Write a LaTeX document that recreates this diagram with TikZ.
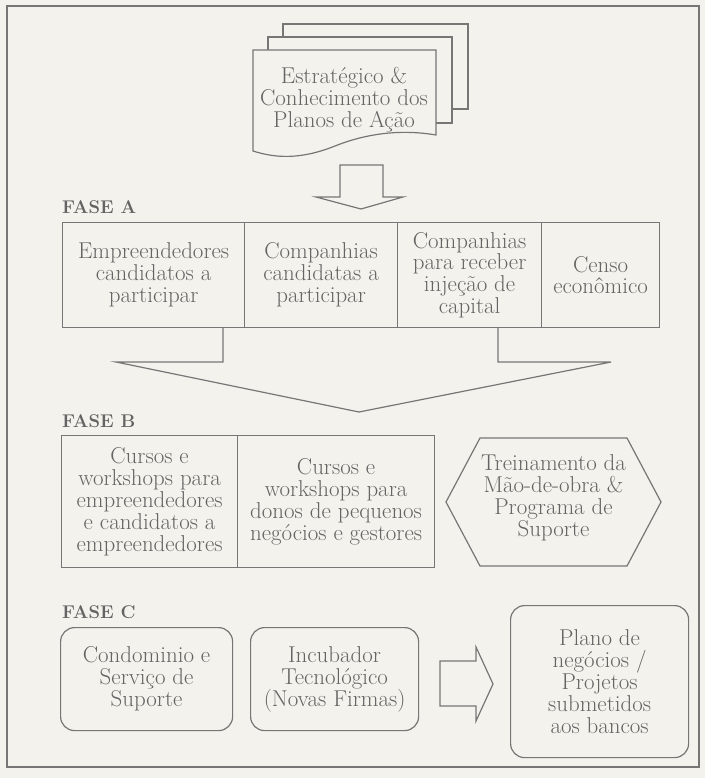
\documentclass[tikz,border=0pt]{standalone}
\usepackage{fontspec}
\usetikzlibrary{calc}
\definecolor{paper}{RGB}{244,242,236}
\definecolor{ink}{RGB}{118,118,118}
\definecolor{txt}{RGB}{100,100,100}
\begin{document}
\begin{tikzpicture}[x=1bp,y=-1bp,
  line/.style={draw=ink, line width=1.2bp},
  body/.style={text=txt, align=center, inner sep=0pt,
    font={\fontsize{23}{22}\selectfont\addfontfeatures{LetterSpace=9}}},
  cell/.style={body, line, anchor=north west},
  rbox/.style={cell, rounded corners=14bp},
  phase/.style={text=txt, anchor=base west, inner sep=0pt,
    font={\fontsize{18.5}{18.5}\selectfont\bfseries}},
  pagefill/.style={line, fill=paper}
]
\useasboundingbox (0,0) rectangle (705,778);
\fill[paper] (0,0) rectangle (705,778);
\draw[line] (7,6) rectangle (699,767);

% stacked document
\draw[pagefill] (283,24) rectangle (468,109);
\draw[pagefill] (268,37) rectangle (452,123);
\draw[pagefill] (253,50) -- (436,50) -- (436,135)
   .. controls (395,128) and (360,136) .. (335,146)
   .. controls (300,160) and (275,158) .. (253,151) -- cycle;
\node[body] (doc) at (344,100) {Estratégico \&\\Conhecimento dos\\Planos de Ação};

% down block arrow
\coordinate (d1) at (340,165);
\coordinate (d2) at (383,165);
\coordinate (d3) at (383,197);
\coordinate (d4) at (403,197);
\coordinate (dt) at (361,209);
\coordinate (d5) at (316,197);
\coordinate (d6) at (340,197);
\draw[line, line join=miter] (d1) -- (d2) -- (d3) -- (d4) -- (dt) -- (d5) -- (d6) -- cycle;

% FASE A
\node[phase] (fa) at (62,213) {FASE A};
\node[cell, minimum width=182bp, minimum height=105bp] (a1) at (62,222) {Empreendedores\\candidatos a\\participar};
\node[cell, minimum width=153bp, minimum height=105bp] (a2) at (244,222) {Companhias\\candidatas a\\participar};
\node[cell, minimum width=144bp, minimum height=105bp] (a3) at (397,222) {Companhias\\para receber\\injeção de\\capital};
\node[cell, minimum width=118bp, minimum height=105bp] (a4) at (541,222) {Censo\\econômico};

% collecting arrow
\coordinate (c1) at (223,327);
\coordinate (c2) at (223,362);
\coordinate (c3) at (116,362);
\coordinate (ct) at (359,412);
\coordinate (c4) at (611,362);
\coordinate (c5) at (498,362);
\coordinate (c6) at (498,327);
\draw[line, line join=miter] (c1) -- (c2) -- (c3) -- (ct) -- (c4) -- (c5) -- (c6);

% FASE B
\node[phase] (fb) at (62,427) {FASE B};
\node[cell, minimum width=176bp, minimum height=132bp] (b1) at (61,435) {Cursos e\\workshops para\\empreendedores\\e candidatos a\\empreendedores};
\node[cell, minimum width=197bp, minimum height=132bp] (b2) at (237,435) {Cursos e\\workshops para\\donos de pequenos\\negócios e gestores};
\coordinate (h1) at (446,502);
\coordinate (h2) at (480,438);
\coordinate (h3) at (627,438);
\coordinate (h4) at (661,502);
\coordinate (h5) at (627,566);
\coordinate (h6) at (480,566);
\draw[line] (h1) -- (h2) -- (h3) -- (h4) -- (h5) -- (h6) -- cycle;
\node[body] (hx) at (553.5,498) {Treinamento da\\Mão-de-obra \&\\Programa de\\Suporte};

% FASE C
\node[phase] (fc) at (62,618) {FASE C};
\node[rbox, minimum width=172bp, minimum height=103bp] (r1) at (60,627) {Condominio e\\Serviço de\\Suporte};
\node[rbox, minimum width=168bp, minimum height=103bp] (r2) at (250,627) {Incubador\\Tecnológico\\(Novas Firmas)};
\node[rbox, minimum width=178bp, minimum height=152bp] (r3) at (510,605) {Plano de\\negócios /\\Projetos\\submetidos\\aos bancos};

% right block arrow
\coordinate (e1) at (440,661);
\coordinate (e2) at (476,661);
\coordinate (e3) at (476,647);
\coordinate (et) at (493,684);
\coordinate (e4) at (476,721);
\coordinate (e5) at (476,706);
\coordinate (e6) at (440,706);
\draw[line, line join=miter] (e1) -- (e2) -- (e3) -- (et) -- (e4) -- (e5) -- (e6) -- cycle;
\end{tikzpicture}
\end{document}
